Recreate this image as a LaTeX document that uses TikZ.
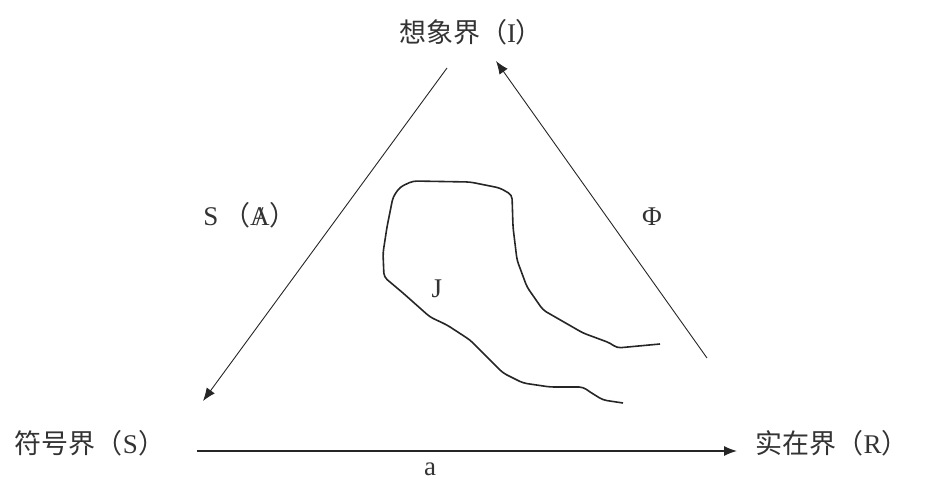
\documentclass[tikz,border=0pt]{standalone}
\usepackage{fontspec}
\setmainfont{Liberation Serif}
\newfontfamily\cjk{Noto Sans CJK SC}
\usetikzlibrary{arrows.meta}
\newcommand{\barA}{\ooalign{A\cr\hidewidth/\hidewidth\cr}}
\begin{document}
\begin{tikzpicture}[x=1pt,y=-1pt,every node/.style={font=\fontsize{27}{30}\selectfont,inner sep=0pt}]
    \tikzset{
      register/.style={text=black!80},
      label/.style={text=black!80},
      line/.style={line width=0.9pt,black!85},
      arrow/.style={-{Latex[length=13pt,width=10pt]},line width=0.9pt,black!85}
    }
    \useasboundingbox (0,0) rectangle (930,484);
    % three registers
    \node[register] (imag) at (471,32) {{\cjk 想象界（}I{\cjk ）}};
    \node[register] (symb) at (90,443) {{\cjk 符号界（}S{\cjk ）}};
    \node[register] (real) at (832,443) {{\cjk 实在界（}R{\cjk ）}};
    % arrow ends
    \coordinate (l1) at (447,68);
    \coordinate (l2) at (203,401);
    \coordinate (r1) at (707,358);
    \coordinate (r2) at (496,61);
    \coordinate (b1) at (197,451);
    \coordinate (b2) at (737,451);
    \draw[arrow] (l1)--(l2);
    \draw[arrow] (r1)--(r2);
    \draw[arrow,line width=1.4pt] (b1)--(b2);
    % labels on the sides
    \node[label] (sa) at (250,215) {S\,{\cjk（}\barA{\cjk）}};
    \node[label] (phi) at (652,217) {Φ};
    \node[label] (a) at (430,469) {a};
    \node[label] (j) at (437,289) {J};
    % the J curve
    \draw[line,line width=1.6pt,rounded corners=4pt] (660,344)--(617,348)--(610,343)--(583,333)
      --(543,310)--(527,287)--(517,260)--(513,227)--(512,195)--(500,188)--(470,182)
      --(413,181)--(400,187)--(393,197)--(387,227)--(383,253)--(384,277)--(403,293)
      --(430,317)--(447,325)--(470,340)--(487,357)--(503,373)--(523,383)--(550,387)
      --(583,387)--(590,392)--(603,400)--(623,403);
  \end{tikzpicture}
\end{document}
